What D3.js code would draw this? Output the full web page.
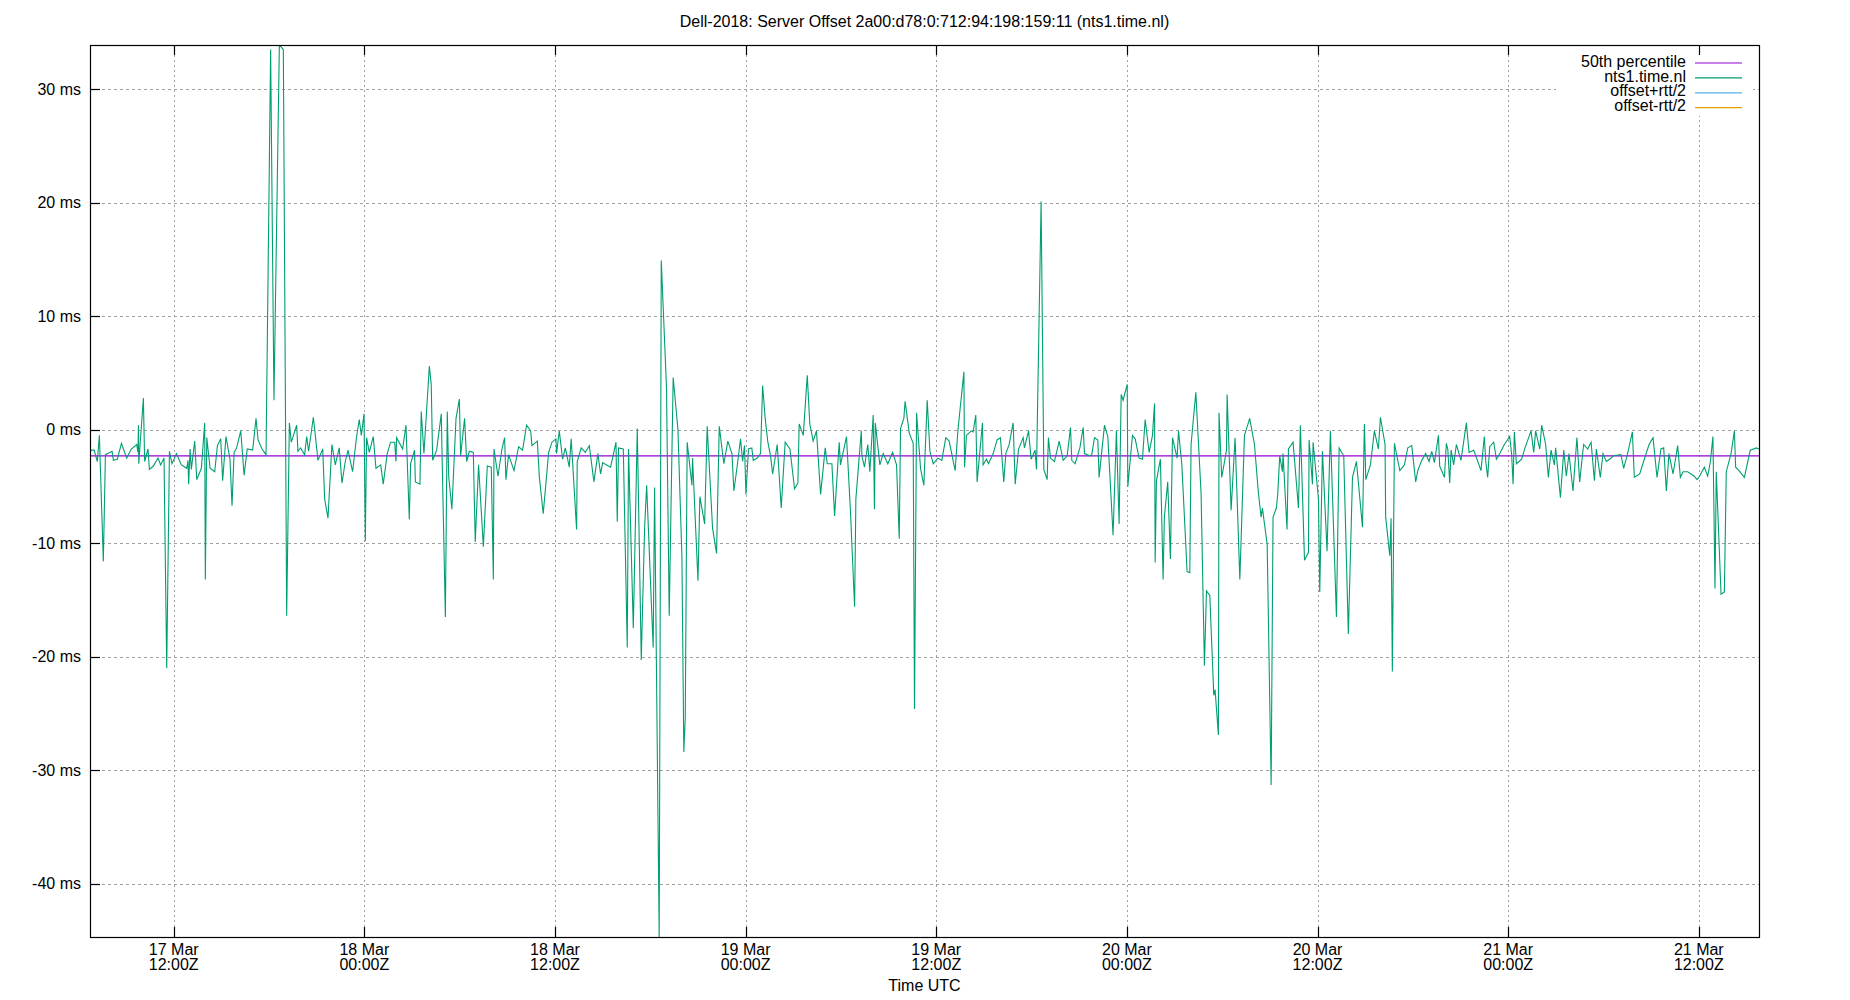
<!DOCTYPE html>
<html><head><meta charset="utf-8">
<script src="https://cdn.jsdelivr.net/npm/d3@7"></script>
<style>
body{margin:0;background:#fff}
svg{display:block}
text{font-family:"Liberation Sans",Arial,sans-serif;font-size:16px;fill:#000}
</style>
</head><body>
<svg id="chart" width="1850" height="1000"></svg>
<script>
// ---------- data ----------
const chartTitle = "Dell-2018: Server Offset 2a00:d78:0:712:94:198:159:11 (nts1.time.nl)";
const xAxisLabel = "Time UTC";
const seriesNames = ["50th percentile", "nts1.time.nl", "offset+rtt/2", "offset-rtt/2"];
const seriesColors = ["#9400d3", "#009e73", "#56b4e9", "#e69f00"];
const startUTC = Date.UTC(2025, 2, 17, 0, 0, 0);   // sample hours are counted from 17 Mar 00:00Z
const percentile50Ms = -2.3;
const yTickValues = [-40, -30, -20, -10, 0, 10, 20, 30];
const yTickSuffix = " ms";
// [hours since 17 Mar 00:00Z, offset in ms]
const offsetSamples = [
[6.73,-1.8],[6.99,-1.8],[7.19,-2.8],[7.32,-0.5],[7.57,-11.6],[7.70,-2.2],[8.12,-1.9],[8.20,-2.7],[8.45,-2.6],[8.71,-1.2],[9.04,-2.5],[9.33,-1.7],[9.67,-1.3],[9.75,-2.0],[9.78,0.4],[9.80,-3.0],[10.09,2.8],[10.17,-2.8],[10.38,-1.7],[10.47,-3.5],[10.72,-3.2],[11.01,-2.5],[11.18,-3.1],[11.39,-2.5],[11.56,-21.0],[11.73,-1.9],[11.89,-3.0],[12.17,-2.1],[12.48,-3.1],[12.82,-3.4],[12.90,-2.7],[12.94,-4.8],[13.03,-1.7],[13.11,-3.5],[13.32,-1.0],[13.45,-4.4],[13.74,-3.4],[13.95,0.6],[13.99,-13.2],[14.08,-0.7],[14.29,-3.4],[14.58,-3.7],[14.75,-1.4],[14.96,-0.8],[15.08,-4.5],[15.29,-0.6],[15.54,-2.6],[15.67,-6.7],[15.80,-2.0],[15.96,-1.6],[16.22,-0.1],[16.43,-4.0],[16.63,-1.7],[16.97,-1.8],[17.18,1.0],
[17.31,-0.9],[17.56,-1.7],[17.81,-2.2],[18.10,33.5],[18.31,2.6],[18.65,33.9],[18.90,33.5],[19.11,-16.4],[19.28,0.6],[19.40,-1.1],[19.74,0.4],[19.82,-1.9],[19.99,-1.6],[20.24,-2.2],[20.37,-0.6],[20.49,-1.9],[20.79,1.1],[21.08,-2.7],[21.38,-1.7],[21.50,-6.1],[21.71,-7.8],[21.96,-1.3],[22.17,-3.1],[22.42,-1.6],[22.59,-4.7],[22.80,-2.8],[22.97,-1.8],[23.26,-3.7],[23.51,-0.6],[23.68,0.9],[23.81,-0.5],[23.98,1.4],[24.06,-9.8],[24.14,-0.7],[24.31,-2.0],[24.56,-0.6],[24.73,-3.4],[25.03,-3.1],[25.19,-4.8],[25.44,-2.1],[25.65,-1.1],[25.91,-1.1],[25.99,-2.8],[26.03,-0.7],[26.41,-1.7],[26.62,0.4],[26.83,-7.9],[26.91,-3.0],[27.16,-1.8],[27.21,-4.6],[27.50,-4.8],[27.58,1.6],[27.75,-2.1],
[28.09,5.6],[28.21,4.0],[28.30,-2.7],[28.55,-1.8],[28.84,1.4],[29.10,-16.5],[29.22,1.6],[29.31,-4.1],[29.51,-7.0],[29.77,1.0],[29.98,2.7],[30.06,-2.3],[30.31,1.0],[30.44,-2.8],[30.61,-1.9],[30.86,-2.0],[30.98,-9.9],[31.19,-3.1],[31.49,-10.3],[31.74,-3.2],[31.99,-3.3],[32.12,-13.2],[32.16,-1.7],[32.41,-4.1],[32.66,-1.7],[32.83,-0.7],[32.91,-4.4],[33.08,-2.2],[33.42,-3.6],[33.71,-1.5],[33.96,-1.8],[34.21,0.4],[34.47,-0.1],[34.55,-1.4],[34.89,-1.0],[35.01,-4.1],[35.26,-7.4],[35.60,-2.0],[35.81,-1.1],[36.06,-0.8],[36.10,-2.1],[36.27,-0.1],[36.48,-2.6],[36.65,-1.6],[36.90,-3.3],[37.02,-0.8],[37.36,-8.8],[37.40,-2.8],[37.65,-1.6],[37.91,-2.0],[38.16,-1.4],[38.45,-4.6],
[38.70,-2.1],[38.87,-3.9],[39.00,-2.9],[39.25,-3.1],[39.50,-3.3],[39.84,-1.1],[39.92,-8.1],[40.00,-1.6],[40.30,-1.7],[40.55,-19.2],[40.63,-1.7],[40.93,-17.5],[41.18,0.1],[41.43,-20.3],[41.64,-8.7],[41.77,-4.9],[42.18,-19.2],[42.27,-5.1],[42.56,-44.7],[42.69,14.9],[43.02,3.7],[43.19,-16.4],[43.44,4.6],[43.74,0.0],[43.99,-11.2],[44.11,-28.4],[44.20,-25.4],[44.32,-1.1],[44.62,-4.9],[44.66,-2.5],[45.00,-13.3],[45.12,-5.9],[45.42,-8.3],[45.58,0.3],[45.92,-8.7],[46.17,-10.9],[46.34,0.3],[46.63,-3.0],[46.88,-1.0],[47.14,-2.1],[47.26,-5.4],[47.47,-3.2],[47.68,-0.8],[47.81,-2.8],[47.93,-1.4],[48.02,-5.7],[48.18,-1.7],[48.39,-1.6],[48.48,-2.7],[48.73,-2.5],[48.94,-2.1],[49.07,3.9],[49.23,1.0],
[49.40,-1.1],[49.57,-2.3],[49.70,-3.9],[49.99,-1.3],[50.24,-6.9],[50.49,-1.1],[50.79,-1.7],[51.08,-5.2],[51.29,-4.7],[51.37,0.5],[51.63,-0.5],[51.88,4.8],[52.04,0.5],[52.25,-1.0],[52.46,-0.1],[52.72,-5.7],[53.01,-1.6],[53.14,-3.0],[53.43,-3.0],[53.60,-7.6],[53.89,-1.1],[53.97,-3.1],[54.35,-0.6],[54.60,-7.2],[54.86,-15.6],[54.94,-6.1],[55.28,-0.1],[55.32,-2.3],[55.48,-3.3],[55.69,-1.3],[55.82,-3.7],[56.03,1.3],[56.11,-7.0],[56.16,0.6],[56.45,-3.1],[56.66,-2.1],[56.95,-3.0],[57.25,-2.0],[57.50,-3.1],[57.67,-9.6],[57.75,0.1],[57.96,1.0],[58.04,2.5],[58.30,-0.3],[58.55,-1.2],[58.63,-24.6],[58.76,1.5],[59.01,-3.4],[59.22,-4.9],[59.43,2.6],[59.60,-1.9],[59.81,-3.0],
[60.10,-2.5],[60.35,-2.7],[60.60,-0.7],[60.81,-1.0],[61.19,-3.6],[61.36,-0.1],[61.74,5.1],[61.78,-3.3],[61.90,-0.5],[62.20,-0.1],[62.32,-0.2],[62.49,1.3],[62.57,-4.6],[62.91,0.6],[62.95,-3.1],[63.16,-2.6],[63.29,-3.0],[63.58,-2.1],[63.83,-0.9],[64.04,-0.7],[64.25,-4.6],[64.38,-2.1],[64.59,-1.3],[64.84,0.6],[64.97,-4.8],[65.18,-1.7],[65.47,-0.7],[65.55,-1.6],[65.81,-0.1],[65.97,-2.6],[66.22,-1.8],[66.31,-3.5],[66.60,20.1],[66.77,-3.5],[66.98,-4.4],[67.06,-0.7],[67.19,-2.5],[67.44,-2.8],[67.74,-1.0],[67.99,-2.7],[68.24,-2.3],[68.45,0.2],[68.53,-2.7],[68.74,-3.0],[69.04,-1.6],[69.25,0.2],[69.33,-2.1],[69.66,-2.3],[69.79,-2.2],[69.96,-0.7],[70.17,-0.9],[70.25,-4.2],[70.59,0.4],
[70.80,-0.6],[71.13,-9.3],[71.34,-0.1],[71.51,-8.3],[71.64,3.1],[71.76,2.6],[72.02,4.0],[72.06,-5.0],[72.35,-0.5],[72.52,-0.8],[72.77,-2.5],[72.98,-2.6],[73.15,0.9],[73.40,-2.0],[73.61,-0.5],[73.74,2.3],[73.78,-11.7],[73.86,-4.5],[74.11,-2.6],[74.28,-13.2],[74.36,-7.7],[74.57,-4.6],[74.74,-11.4],[74.87,-0.7],[75.16,-2.5],[75.25,-0.1],[75.46,-3.1],[75.79,-12.5],[75.96,-12.6],[76.04,-1.3],[76.34,3.3],[76.67,-5.6],[76.88,-20.8],[77.01,-14.2],[77.22,-14.6],[77.47,-23.4],[77.55,-22.9],[77.76,-26.9],[77.80,1.5],[77.97,-4.2],[78.27,-1.8],[78.31,3.1],[78.56,-7.1],[78.81,-0.7],[79.11,-13.2],[79.40,-0.5],[79.73,1.0],[80.03,-1.3],[80.28,-5.6],[80.45,-7.7],[80.53,-6.9],[80.83,-10.1],[81.08,-31.3],[81.20,-7.7],[81.41,-6.9],
[81.50,-5.6],[81.62,-2.3],[81.79,-3.7],[81.83,-2.1],[82.08,-8.8],[82.17,-1.7],[82.46,-1.1],[82.80,-6.9],[82.92,0.4],[83.18,-11.5],[83.43,-10.8],[83.47,-0.9],[83.68,-4.8],[83.72,-1.1],[84.06,-6.1],[84.14,-14.3],[84.31,-1.9],[84.60,-10.7],[84.81,-0.1],[85.19,-16.5],[85.36,-1.6],[85.65,-2.3],[85.94,-18.0],[86.20,-4.2],[86.45,-2.8],[86.83,-8.6],[86.95,0.5],[87.04,-4.4],[87.33,-3.1],[87.58,-0.1],[87.83,-1.7],[87.96,1.1],[88.25,-1.3],[88.29,-7.7],[88.55,-11.1],[88.63,-7.8],[88.71,-21.3],[88.84,-1.2],[89.18,-3.6],[89.47,-3.1],[89.68,-1.6],[89.93,-1.4],[90.18,-4.6],[90.31,-3.6],[90.56,-2.7],[90.81,-2.1],[91.02,-2.8],[91.19,-1.9],[91.36,-2.9],[91.61,-0.5],[91.69,-3.2],[91.99,-4.2],[92.11,-1.2],
[92.20,-1.7],[92.32,-4.7],[92.41,-1.8],[92.57,-3.1],[92.74,-1.3],[93.03,-2.7],[93.37,0.6],[93.54,-2.0],[93.83,-1.8],[94.04,-2.6],[94.29,-3.6],[94.50,-0.6],[94.59,-2.8],[94.71,-4.2],[94.84,-1.5],[95.09,-1.1],[95.26,-2.6],[95.51,-2.0],[95.76,-1.3],[96.10,-0.6],[96.22,-2.2],[96.31,-4.8],[96.39,-0.2],[96.52,-3.0],[96.85,-2.6],[97.06,-1.6],[97.44,-0.1],[97.61,-2.0],[97.73,-0.1],[97.99,-1.7],[98.11,0.4],[98.36,-1.3],[98.53,-4.2],[98.70,-1.8],[98.91,-3.1],[98.99,-1.6],[99.29,-6.0],[99.50,-1.8],[99.66,-4.1],[99.83,-2.1],[100.08,-5.4],[100.33,-0.7],[100.50,-4.6],[100.75,-1.3],[101.01,-1.7],[101.22,-1.1],[101.43,-4.5],[101.55,-1.7],[101.80,-4.2],[101.97,-2.1],[102.18,-2.8],[102.39,-2.6],[102.64,-2.3],[103.10,-2.2],[103.27,-3.4],[103.52,-2.1],[103.82,-0.2],[103.94,-4.2],[104.28,-3.9],[104.57,-2.6],[104.87,-1.3],[105.12,-0.7],[105.37,-4.2],[105.62,-1.7],[105.79,-1.6],[105.96,-5.4],[106.12,-2.1],[106.38,-3.9],[106.67,-1.4],[106.84,-4.2],[107.01,-3.7],[107.30,-3.7],[107.72,-4.1],[107.89,-4.4],[108.05,-4.1],[108.35,-3.3],[108.56,-4.1],[108.73,-2.8],[108.89,-0.6],[109.02,-14.0],[109.10,-3.7],[109.40,-14.5],[109.61,-14.3],[109.73,-3.7],[110.03,-2.1],[110.24,-0.1],[110.32,-3.3],[110.53,-3.6],[110.87,-4.2],[111.24,-1.8],[111.62,-1.6],[111.79,-1.7]
];

// ---------- layout ----------
const W = 1850, H = 1000;
const plot = {left: 90, right: 1759, top: 45, bottom: 937};
const svg = d3.select("#chart");

const pts = offsetSamples.map(([h, v]) => ({t: new Date(startUTC + h * 3600e3), v}));
const x = d3.scaleUtc().domain(d3.extent(pts, d => d.t)).range([plot.left, plot.right]);
const y = d3.scaleLinear().domain(d3.extent(pts, d => d.v)).range([plot.bottom, plot.top]);
const xTicks = x.ticks(d3.utcHour.every(12));

// grid
const grid = svg.append("g").attr("stroke", "#a0a0a0").attr("stroke-width", 1)
  .attr("stroke-dasharray", "3,3").attr("fill", "none");
grid.selectAll("line.h").data(yTickValues).join("line").attr("class", "h")
  .attr("x1", plot.left).attr("x2", plot.right)
  .attr("y1", d => Math.round(y(d)) + 0.5).attr("y2", d => Math.round(y(d)) + 0.5);
grid.selectAll("line.v").data(xTicks).join("line").attr("class", "v")
  .attr("y1", plot.top).attr("y2", plot.bottom)
  .attr("x1", d => Math.round(x(d)) + 0.5).attr("x2", d => Math.round(x(d)) + 0.5)
  .attr("stroke-dasharray", "2,3");

// legend box (opaque)
const legend = {textRight: 1686, lineX1: 1695, lineX2: 1742, row0: 61, rowStep: 14.9};
svg.append("rect").attr("x", 1556).attr("y", plot.top + 1).attr("width", 197).attr("height", 70).attr("fill", "#fff");

// data
const clipId = "plotclip";
svg.append("clipPath").attr("id", clipId).append("rect")
  .attr("x", plot.left).attr("y", plot.top).attr("width", plot.right - plot.left).attr("height", plot.bottom - plot.top);
const line = d3.line().x(d => x(d.t)).y(d => y(d.v));
svg.append("line")
  .attr("x1", plot.left).attr("x2", plot.right)
  .attr("y1", y(percentile50Ms)).attr("y2", y(percentile50Ms))
  .attr("stroke", seriesColors[0]).attr("stroke-width", 1.2);
svg.append("path").datum(pts).attr("d", line).attr("clip-path", `url(#${clipId})`)
  .attr("fill", "none").attr("stroke", seriesColors[1]).attr("stroke-width", 1.1)
  .attr("stroke-linejoin", "miter");

// border
svg.append("rect").attr("x", plot.left + 0.5).attr("y", plot.top + 0.5)
  .attr("width", plot.right - plot.left).attr("height", plot.bottom - plot.top)
  .attr("fill", "none").attr("stroke", "#000").attr("stroke-width", 1.2);

// ticks
const ticks = svg.append("g").attr("stroke", "#000").attr("stroke-width", 1.2);
ticks.selectAll("line.yl").data(yTickValues).join("line")
  .attr("x1", plot.left).attr("x2", plot.left + 10)
  .attr("y1", d => Math.round(y(d)) + 0.5).attr("y2", d => Math.round(y(d)) + 0.5);
ticks.selectAll("line.xb").data(xTicks).join("line")
  .attr("x1", d => Math.round(x(d)) + 0.5).attr("x2", d => Math.round(x(d)) + 0.5)
  .attr("y1", plot.bottom).attr("y2", plot.bottom - 10);
ticks.selectAll("line.xt").data(xTicks).join("line")
  .attr("x1", d => Math.round(x(d)) + 0.5).attr("x2", d => Math.round(x(d)) + 0.5)
  .attr("y1", plot.top).attr("y2", plot.top + 10);

// y labels
svg.append("g").selectAll("text").data(yTickValues).join("text")
  .attr("x", 81).attr("y", d => y(d)).attr("dy", "0.35em").attr("text-anchor", "end")
  .text(d => `${d}${yTickSuffix}`);

// x labels
const fmtDay = d3.utcFormat("%d %b"), fmtTime = d3.utcFormat("%H:%MZ");
const xl = svg.append("g").selectAll("text").data(xTicks).join("text")
  .attr("text-anchor", "middle");
xl.append("tspan").attr("x", d => x(d)).attr("y", 955).text(d => fmtDay(d));
xl.append("tspan").attr("x", d => x(d)).attr("y", 970).text(d => fmtTime(d));

svg.append("text").attr("x", (plot.left + plot.right) / 2).attr("y", 991)
  .attr("text-anchor", "middle").text(xAxisLabel);
svg.append("text").attr("x", (plot.left + plot.right) / 2).attr("y", 27)
  .attr("text-anchor", "middle").text(chartTitle);

// legend
seriesNames.forEach((name, i) => {
  const yy = legend.row0 + i * legend.rowStep;
  svg.append("text").attr("x", legend.textRight).attr("y", yy).attr("dy", "0.35em")
    .attr("text-anchor", "end").text(name);
  svg.append("line").attr("x1", legend.lineX1).attr("x2", legend.lineX2)
    .attr("y1", yy + 2).attr("y2", yy + 2)
    .attr("stroke", seriesColors[i]).attr("stroke-width", 1.2);
});
</script>
</body></html>
